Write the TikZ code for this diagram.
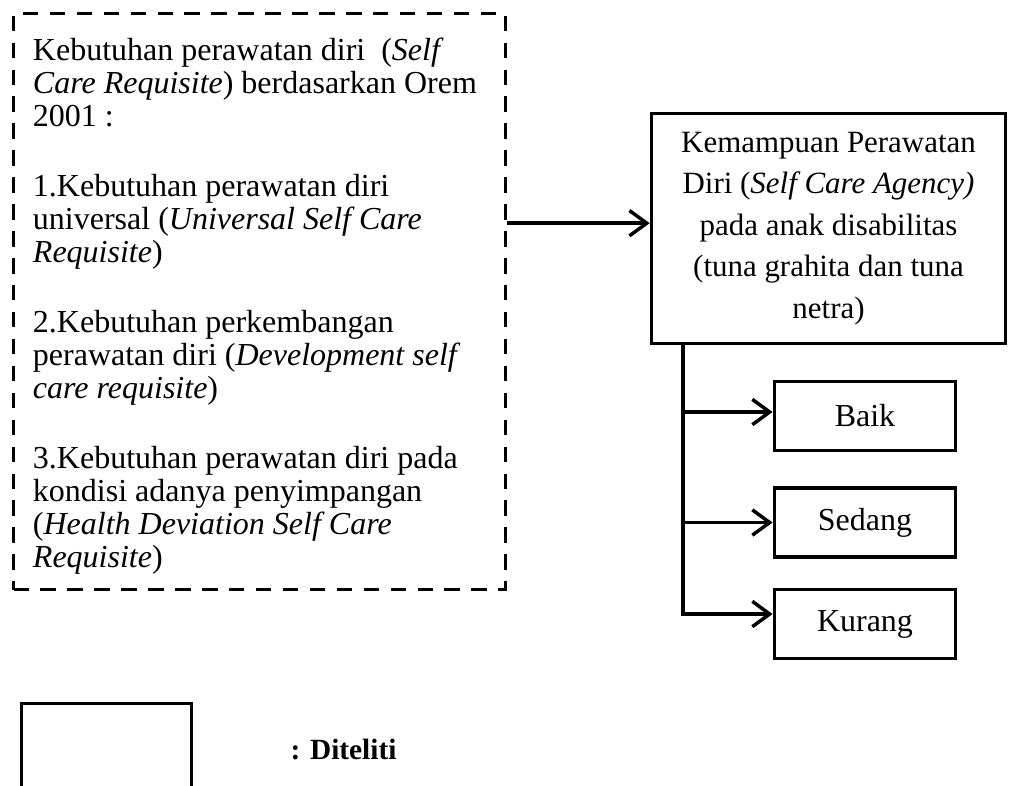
\documentclass[tikz,border=0pt]{standalone}
\usepackage{fontspec}
\setmainfont{Liberation Serif}
\usetikzlibrary{arrows.meta}

\begin{document}
\begin{tikzpicture}[
    x=0.375pt, y=-0.375pt,
    box/.style={draw, line width=1.3pt, align=center, inner sep=0pt, font=\fontsize{11.6pt}{15.6pt}\selectfont},
    dashbox/.style={draw, line width=1.4pt, dash pattern=on 5.8pt off 4.3pt, align=flush left, text width=169.9pt, inner xsep=7.3pt, inner ysep=0pt, minimum width=184.5pt, minimum height=216pt, font=\fontsize{12pt}{12.4pt}\selectfont},
    mainbox/.style={box, minimum width=132.8pt, minimum height=86.3pt},
    smallbox/.style={box, minimum width=68pt, minimum height=25.9pt, font=\fontsize{12pt}{14pt}\selectfont},
    arrow/.style={-{Straight Barb[length=6.5pt,width=9.5pt]}, line width=1.3pt},
]

\useasboundingbox (0,0) rectangle (1009,785);

% Kebutuhan perawatan diri (dashed)
\node[dashbox] (kebutuhan) at (259.5,301.5) {\rule{0pt}{12pt}Kebutuhan perawatan diri\ \ (\textit{Self}\\
    \textit{Care Requisite}) berdasarkan Orem\\
    2001 :\\[13.8pt]
    1.Kebutuhan perawatan diri\\
    universal (\textit{Universal Self Care}\\
    \textit{Requisite})\\[13.8pt]
    2.Kebutuhan perkembangan\\
    perawatan diri (\textit{Development self}\\
    \textit{care requisite})\\[13.8pt]
    3.Kebutuhan perawatan diri pada\\
    kondisi adanya penyimpangan\\
    (\textit{Health Deviation Self Care}\\
    \textit{Requisite})};

% Kemampuan perawatan diri
\node[mainbox] (kemampuan) at (828.5,228.5) {Kemampuan Perawatan\\Diri (\textit{Self Care Agency)}\\pada anak disabilitas\\(tuna grahita dan tuna\\netra)};
\coordinate (masuk) at ([yshift=2pt]kemampuan.west);
\draw[arrow] (kebutuhan.east |- masuk) -- (masuk);

% Kategori
\node[smallbox] (baik) at (865,416) {Baik};
\node[smallbox] (sedang) at (865,522.5) {Sedang};
\node[smallbox] (kurang) at (865,624) {Kurang};

\coordinate (cabang) at ([xshift=12.5pt]kemampuan.south west);
\draw[arrow] (cabang) |- ([yshift=1.5pt]baik.west);
\draw[arrow] (cabang) |- (sedang.west);
\draw[arrow] (cabang) |- ([yshift=3.75pt]kurang.west);

% Keterangan
\node[box, minimum width=63.8pt, minimum height=35pt] (legenda) at (106.5,750) {};
\node[anchor=west, inner sep=0pt, font=\fontsize{11pt}{13pt}\selectfont\bfseries] (diteliti) at (290,750) {: Diteliti};

\end{tikzpicture}
\end{document}
